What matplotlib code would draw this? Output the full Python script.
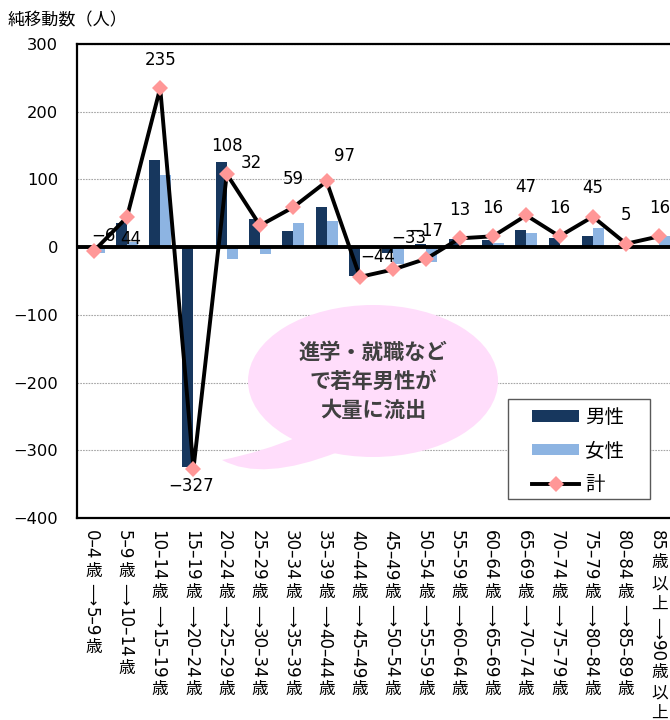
import matplotlib
matplotlib.use("Agg")
import matplotlib.pyplot as plt
import numpy as np
from matplotlib.patches import Ellipse, Rectangle, PathPatch, Patch
from matplotlib.lines import Line2D
from matplotlib.path import Path
from matplotlib.font_manager import FontProperties

plt.rcParams['font.family'] = ['DejaVu Sans', 'Noto Sans CJK JP']
plt.rcParams['axes.unicode_minus'] = True

# ---- data -------------------------------------------------------------
categories = [
    "0–4歳→5–9歳", "5–9歳→10–14歳", "10–14歳→15–19歳", "15–19歳→20–24歳",
    "20–24歳→25–29歳", "25–29歳→30–34歳", "30–34歳→35–39歳", "35–39歳→40–44歳",
    "40–44歳→45–49歳", "45–49歳→50–54歳", "50–54歳→55–59歳", "55–59歳→60–64歳",
    "60–64歳→65–69歳", "65–69歳→70–74歳", "70–74歳→75–79歳", "75–79歳→80–84歳",
    "80–84歳→85–89歳", "85歳以上→90歳以上",
]
male = [2, 36, 129, -325, 126, 42, 24, 59, -43, -8, 5, 12, 10, 26, 14, 17, 3, 0]
female = [-8, 8, 106, -2, -18, -10, 35, 38, -1, -25, -22, 1, 6, 21, 2, 28, 2, 16]
total = [-6, 44, 235, -327, 108, 32, 59, 97, -44, -33, -17, 13, 16, 47, 16, 45, 5, 16]
yticks = [-400, -300, -200, -100, 0, 100, 200, 300]

# ---- styling ----------------------------------------------------------
NAVY = "#17375E"
LIGHT = "#8DB4E2"
PINK = "#FF9797"
W, H = 670, 720


def fx(px):
    return px / W


def fy(py):
    return 1 - py / H


fig = plt.figure(figsize=(W / 100, H / 100), dpi=100)
ax = fig.add_axes([fx(77), fy(518), (676 - 77) / W, (518 - 44) / H])

x = np.arange(len(categories))
bw = 0.33
ax.bar(x - bw / 2, male, width=bw, color=NAVY, zorder=2)
ax.bar(x + bw / 2, female, width=bw, color=LIGHT, zorder=2)
ax.axhline(0, color="black", lw=2.8, zorder=2.5)
ax.plot(x, total, color="black", lw=2.8, marker="D", ms=8,
        mfc=PINK, mec=PINK, mew=0, zorder=3)

ax.set_xlim(-0.5, len(categories) - 0.5)
ax.set_ylim(-400, 300)
ax.set_yticks(yticks)
ax.set_yticklabels([str(v).replace("-", "−") for v in yticks])
ax.tick_params(axis="y", length=0, pad=13.5, labelsize=11.7)
ax.set_xticks([])
ax.set_axisbelow(True)
ax.yaxis.grid(True, linestyle=(0, (1.5, 1.0)), color="#A6A6A6", lw=0.8)
for s in ("top", "bottom", "left", "right"):
    ax.spines[s].set_linewidth(1.6)
    ax.spines[s].set_color("black")

# data labels for the total line (offsets in pixels: dx, dy up)
offsets = {0: (10, 15), 1: (4, -22), 3: (-2, -17), 5: (-9, 62),
           7: (18, 25), 8: (18, 20), 9: (16, 31), 10: (-1, 28)}
for i, v in enumerate(total):
    dx, dy = offsets.get(i, (0, 28.5))
    ax.annotate(str(v).replace("-", "−"), xy=(i, v), xytext=(dx * 0.72, dy * 0.72),
                textcoords="offset points", ha="center", va="center",
                fontsize=12, zorder=4)

# vertical category labels: digits and arrows turned, kanji kept upright
renderer = fig.canvas.get_renderer()
lab_fs = 12
rot_prop = FontProperties(family=["DejaVu Sans", "Noto Sans CJK JP"], size=lab_fs)
ARROW_GLYPH = "⟶"
w12, _, _ = renderer.get_text_width_height_descent(ARROW_GLYPH, rot_prop, ismath=False)
arrow_prop = FontProperties(family=["DejaVu Sans", "Noto Sans CJK JP"],
                            size=min(14, max(8, lab_fs * 22 / w12)))
for i, lab in enumerate(categories):
    runs = []
    for ch in lab:
        kind = "up" if "\u4e00" <= ch <= "\u9fff" else ("arrow" if ch == "→" else "rot")
        if kind == "rot" and runs and runs[-1][1] == "rot":
            runs[-1][0] += ch
        else:
            runs.append([ch, kind])
    y_pt = 9.0
    for seg, kind in runs:
        if kind == "up":
            ax.annotate(seg, xy=(i, 0), xycoords=("data", "axes fraction"),
                        xytext=(0, -y_pt), textcoords="offset points",
                        ha="center", va="top", fontsize=lab_fs,
                        family="Noto Sans CJK JP", annotation_clip=False)
            y_pt += lab_fs * 1.25
        elif kind == "arrow":
            w_px, _, _ = renderer.get_text_width_height_descent(ARROW_GLYPH, arrow_prop, ismath=False)
            ax.annotate(ARROW_GLYPH, xy=(i, 0), xycoords=("data", "axes fraction"),
                        xytext=(-1.7, -y_pt), textcoords="offset points",
                        ha="center", va="top", rotation=-90,
                        fontproperties=arrow_prop, annotation_clip=False)
            y_pt += w_px * 72 / 100 + 0.8
        else:
            w_px, _, _ = renderer.get_text_width_height_descent(seg, rot_prop, ismath=False)
            ax.annotate(seg, xy=(i, 0), xycoords=("data", "axes fraction"),
                        xytext=(-2.0, -y_pt), textcoords="offset points",
                        ha="center", va="top", rotation=-90,
                        fontproperties=rot_prop, annotation_clip=False)
            y_pt += w_px * 72 / 100 + 2.0

# callout bubble
BUBBLE = "#FFDDFB"
ax.add_patch(Ellipse((fx(373), fy(381)), 250 / W, 152 / H, transform=fig.transFigure,
                     facecolor=BUBBLE, edgecolor="none", zorder=1, clip_on=False))
tail_px = [(300, 436), (262, 452), (222, 460), (262, 482), (338, 452), (300, 436)]
tail = Path([(fx(a), fy(b)) for a, b in tail_px],
            [Path.MOVETO, Path.CURVE3, Path.CURVE3, Path.CURVE3, Path.CURVE3, Path.CLOSEPOLY])
ax.add_patch(PathPatch(tail, transform=fig.transFigure, facecolor=BUBBLE,
                       edgecolor="none", zorder=1, clip_on=False))
for txt, py in (("進学・就職など", 352), ("で若年男性が", 381), ("大量に流出", 410)):
    ax.text(fx(373), fy(py), txt, transform=fig.transFigure, ha="center", va="center",
            fontsize=15.3, fontweight="bold", color="#404040",
            family="Noto Sans CJK JP", zorder=1.5)

# legend with its own frame
ax.add_patch(Rectangle((fx(508), fy(499)), 142 / W, 100 / H, transform=fig.transFigure,
                       facecolor="white", edgecolor="#595959", lw=1.0, zorder=4,
                       clip_on=False))
handles = [Patch(facecolor=NAVY), Patch(facecolor=LIGHT),
           Line2D([], [], color="black", lw=2.8, marker="D", ms=8, mfc=PINK, mec=PINK, mew=0)]
leg = ax.legend(handles, ["男性", "女性", "計"], loc="upper left",
                bbox_to_anchor=(fx(532), fy(408)), bbox_transform=fig.transFigure,
                frameon=False, borderpad=0, borderaxespad=0, fontsize=14,
                handlelength=2.42, handleheight=0.52, handletextpad=0.3,
                labelspacing=0.75)
leg.set_zorder(5)

fig.text(fx(8), fy(20), "純移動数（人）", ha="left", va="center", fontsize=12.3,
         family="Noto Sans CJK JP")

fig.savefig("out.png", dpi=100)
